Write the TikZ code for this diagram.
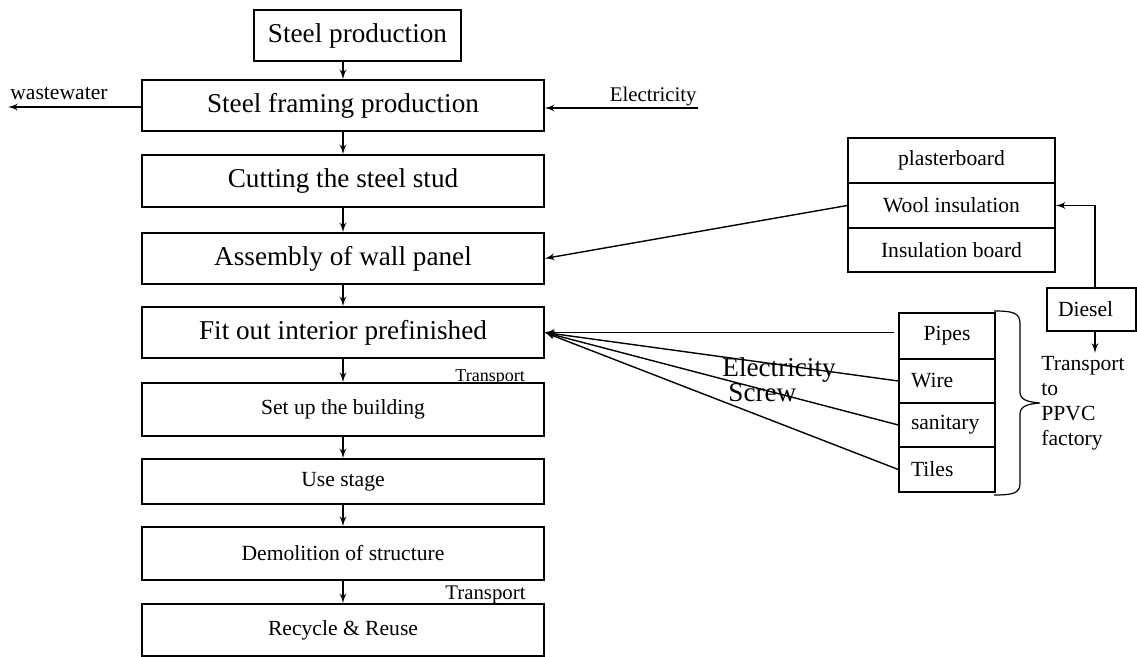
\documentclass[tikz,border=0pt]{standalone}
\usepackage{amsmath}
\usepackage{fontspec}
\setmainfont{Liberation Serif}
\usepackage{tikz}
\usetikzlibrary{arrows}

\begin{document}
\begin{tikzpicture}[x=0.5pt, y=-0.5pt]
			\tikzset{box/.style = {shape=rectangle,draw,fill=white,line width=0.7pt,inner sep=0pt}}
			\tikzset{bigtext/.style = {font=\fontsize{13.6}{16}\selectfont}}
			\tikzset{smalltext/.style = {font=\fontsize{10.8}{12.5}\selectfont}}
			\tikzset{stagebox/.style = {box,minimum width=201pt}}
			\tikzset{layerbox/.style = {box,smalltext,minimum width=103.5pt,minimum height=22.5pt}}
			\tikzset{partbox/.style = {box,smalltext,minimum width=48pt,minimum height=22pt}}
			\tikzset{leftpart/.style = {text width=36pt,inner xsep=6pt,align=left}}
			\tikzset{label/.style = {inner sep=0pt,anchor=base west}}
			\tikzset{edge/.style = {->,> = latex',line width=0.7pt}}
			\useasboundingbox (0,0) rectangle (1137,657);
			% labels
			\node[label,smalltext] (ww) at (10,100) {wastewater};
			\node[label,anchor=base east,font=\fontsize{10.4}{12}\selectfont] (el) at (697,102) {Electricity};
			\node[label,font=\fontsize{9}{11}\selectfont] (t1) at (455,382) {Transport};
			\node[label,font=\fontsize{10.4}{12}\selectfont] (t2) at (445,600) {Transport};
			\node[label,bigtext] (e2) at (722,377) {Electricity};
			\node[label,bigtext] (sc) at (728,402) {Screw};
			\node[label,smalltext,anchor=north west,align=left] (tp) at (1041,356) {Transport\\to\\PPVC\\factory};
			\coordinate (ein) at (698,108);
			\coordinate (wout) at (8,107);
			\coordinate (dout) at (1095,353);
			% stages
			\node[stagebox,bigtext,minimum width=103.5pt,minimum height=25.5pt] (sp) at (357.5,35.5) {Steel production};
			\node[stagebox,bigtext,minimum height=25.5pt] (fr) at (343,105.5) {Steel framing production};
			\node[stagebox,bigtext,minimum height=26pt] (cu) at (343,181) {Cutting the steel stud};
			\node[stagebox,bigtext,minimum height=25.5pt] (as) at (343,258.5) {Assembly of wall panel};
			\node[stagebox,bigtext,minimum height=25.5pt] (fi) at (343,332.5) {Fit out interior prefinished};
			\node[stagebox,smalltext,minimum height=26.5pt] (su) at (343,409.5) {Set up the building};
			\node[stagebox,smalltext,minimum height=22.5pt] (us) at (343,481.5) {Use stage};
			\node[stagebox,smalltext,minimum height=26.5pt] (de) at (343,553.5) {Demolition of structure};
			\node[stagebox,smalltext,minimum height=26pt] (re) at (343,630) {Recycle \& Reuse};
			% materials
			\node[layerbox] (pl) at (951.5,160.5) {plasterboard};
			\node[layerbox] (wo) at (951.5,205.5) {Wool insulation};
			\node[layerbox,minimum height=22pt] (ib) at (951.5,250) {Insulation board};
			\node[box,smalltext,minimum height=21.5pt,text width=33.5pt,inner xsep=5.5pt,align=left] (di) at (1091.5,309.5) {Diesel};
			\node[partbox,minimum height=23pt] (pi) at (947,336) {Pipes};
			\node[partbox,leftpart] (wi) at (947,381) {Wire};
			\node[partbox,leftpart] (sa) at (947,425) {sanitary};
			\node[partbox,leftpart,minimum height=22.5pt] (ti) at (947,469.5) {Tiles};
			% edges
			\draw[edge] (sp.south -| fr.north) -- (fr.north);
			\draw[edge] (fr) -- (cu);
			\draw[edge] (cu) -- (as);
			\draw[edge] (as) -- (fi);
			\draw[edge] (fi) -- (su);
			\draw[edge] (su) -- (us);
			\draw[edge] (us) -- (de);
			\draw[edge] (de) -- (re);
			\draw[edge] (fr.west |- wout) -- (wout);
			\draw[edge] (ein) -- (ein -| fr.east);
			\draw[edge] (wo.west) -- (as.east);
			\draw[edge] ([xshift=1.75pt]di.north) |- (wo.east);
			\draw[edge] (di.south -| dout) -- (dout);
			\draw[edge] ([xshift=-2pt]pi.west |- fi.east) -- (fi.east);
			\draw[edge] (wi.west) -- (fi.east);
			\draw[edge] (sa.west) -- (fi.east);
			\draw[edge] (ti.west) -- (fi.east);
			% brace
			\draw[line width=0.6pt] (994,311) .. controls (1014,311) and (1020,313) .. (1020,324) -- (1020,392)
				.. controls (1020,399) and (1026,402) .. (1040,403) .. controls (1026,404) and (1020,407) .. (1020,414)
				-- (1020,483) .. controls (1020,493) and (1014,495) .. (994,495);
		\end{tikzpicture}
\end{document}
